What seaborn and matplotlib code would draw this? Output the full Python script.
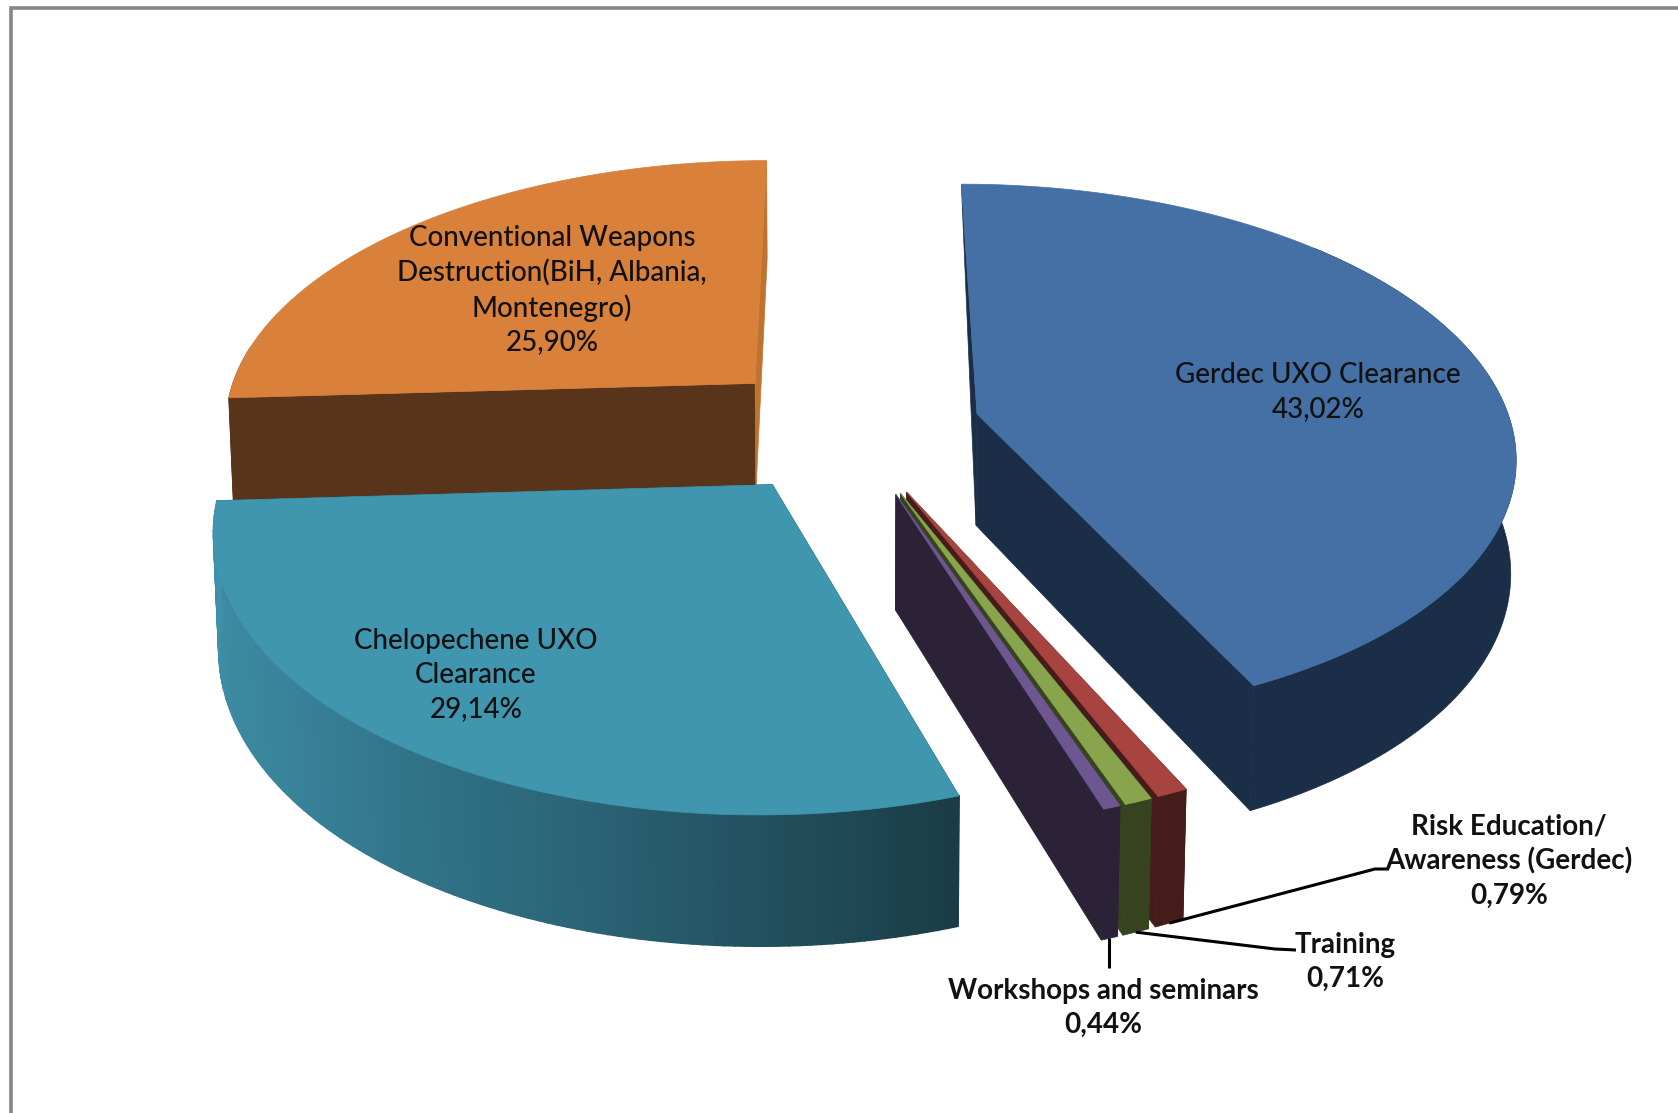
import matplotlib.pyplot as plt
import numpy as np
import seaborn as sns

categories = [
    "Gerdec UXO Clearance",
    "Risk Education/\nAwareness (Gerdec)",
    "Training",
    "Workshops and seminars",
    "Chelopechene UXO\nClearance",
    "Conventional Weapons\nDestruction(BiH, Albania,\nMontenegro)",
]
shares = [43.02, 0.79, 0.71, 0.44, 29.14, 25.90]

top_colors = ["#4470A5", "#A8443F", "#88A44D", "#6E5690", "#4096AE", "#D9803A"]
side_colors = ["#1B2E47", "#451C19", "#36431E", "#2C2238", "#1B3D48", "#57341A"]
explode = [0.245, 0.255, 0.255, 0.255, 0.25, 0.25]
draw_order = [5, 0, 1, 2, 3, 4]

# perspective of the pie, in image pixels
X0, Y0 = 850, 428
RX, RY = 535, 266
DEPTH = 113
PERSP, PERSP_Z = 0.1414, 0.008

label_pos = {
    0: (1318, 392, "medium"),
    1: (1509, 861, "bold"),
    2: (1345, 962, "bold"),
    3: (1103, 1008, "bold"),
    4: (476, 675, "medium"),
    5: (552, 290, "medium"),
}
leader_elbows = {
    1: [(1375, 869), (1389, 869)],
    2: [(1275, 949), (1296, 950)],
    3: [(None, 968)],
}


def project(x, y, z):
    w = 1 + PERSP * y + PERSP_Z * z
    return X0 + RX * x / w, Y0 + (-RY * y + DEPTH * z) / w


def slice_geom(i):
    edges = np.cumsum([0] + shares) / 100 * 2 * np.pi
    a0, a1 = edges[i], edges[i + 1]
    mid = (a0 + a1) / 2
    cx, cy = explode[i] * np.sin(mid), explode[i] * np.cos(mid)
    ang = np.linspace(a0, a1, max(int((a1 - a0) * 60), 6))
    return cx, cy, ang


def draw_slice(ax, i):
    cx, cy, ang = slice_geom(i)
    ox, oy = cx + np.sin(ang), cy + np.cos(ang)
    tx, ty = project(ox, oy, 0)
    bx, by = project(ox, oy, 1)
    apex_t = project(cx, cy, 0)
    apex_b = project(cx, cy, 1)

    wall = side_colors[i]
    end_wall = "#C0722F" if i == 5 else wall
    for k, col in ((0, wall), (-1, end_wall)):
        xs = [apex_t[0], tx[k], bx[k], apex_b[0]]
        ys = [apex_t[1], ty[k], by[k], apex_b[1]]
        if i == 0 and k == 0:
            # the far wall of the big slice narrows to a sliver
            del xs[2], ys[2]
        ax.fill(xs, ys, color=col, lw=0.5)

    if i == 4:
        # teal wall fades from the lit left side to the dark right side
        wall_cols = sns.blend_palette(
            ["#1A3C47", "#2B6577", "#38839A", "#3F92A9"], len(ang) - 1
        )
        for k in range(len(ang) - 1):
            ax.fill(
                [tx[k], tx[k + 1], bx[k + 1], bx[k]],
                [ty[k], ty[k + 1], by[k + 1], by[k]],
                color=wall_cols[k], lw=1.2,
            )
    else:
        # leave out the far rim, it would poke past the top face
        front = np.cos(ang) < 0.7
        if i == 5:
            front = np.cos(ang) < 0.15
        ax.fill(
            np.r_[tx[front], bx[front][::-1]],
            np.r_[ty[front], by[front][::-1]],
            color=wall, lw=0.5,
        )

    ax.fill(
        np.r_[apex_t[0], tx], np.r_[apex_t[1], ty],
        color=top_colors[i], lw=0.5,
    )


def add_labels(ax):
    for i, (x, y, weight) in label_pos.items():
        text = f"{categories[i]}\n{shares[i]:.2f}%".replace(".", ",")
        ax.text(
            x, y, text, ha="center", va="center", fontsize=20,
            fontweight=weight, color="#111111", linespacing=1.37,
        )


def add_leaders(ax):
    for i, elbow in leader_elbows.items():
        cx, cy, ang = slice_geom(i)
        mid = (ang[0] + ang[-1]) / 2
        start = project(cx + np.sin(mid), cy + np.cos(mid), 1)
        pts = [start] + [(start[0] if x is None else x, y) for x, y in elbow]
        ax.plot(*zip(*pts), color="black", lw=2.2, solid_capstyle="butt")


def main():
    sns.set_theme(style="white")
    plt.rcParams["font.family"] = ["Lato", "DejaVu Sans"]

    fig = plt.figure(figsize=(16.78, 11.13), dpi=100, facecolor="white")
    ax = fig.add_axes([0, 0, 1, 1])
    ax.set_xlim(0, 1678)
    ax.set_ylim(1113, 0)
    ax.axis("off")

    # chart frame, right and bottom edges fall outside the crop
    ax.plot([11, 11, 1678], [1113, 7.5, 7.5], color="#868686", lw=2.6,
            solid_joinstyle="miter")

    for i in draw_order:
        draw_slice(ax, i)
    add_leaders(ax)
    add_labels(ax)

    fig.savefig("out.png", dpi=100)
    plt.close(fig)


if __name__ == "__main__":
    main()
